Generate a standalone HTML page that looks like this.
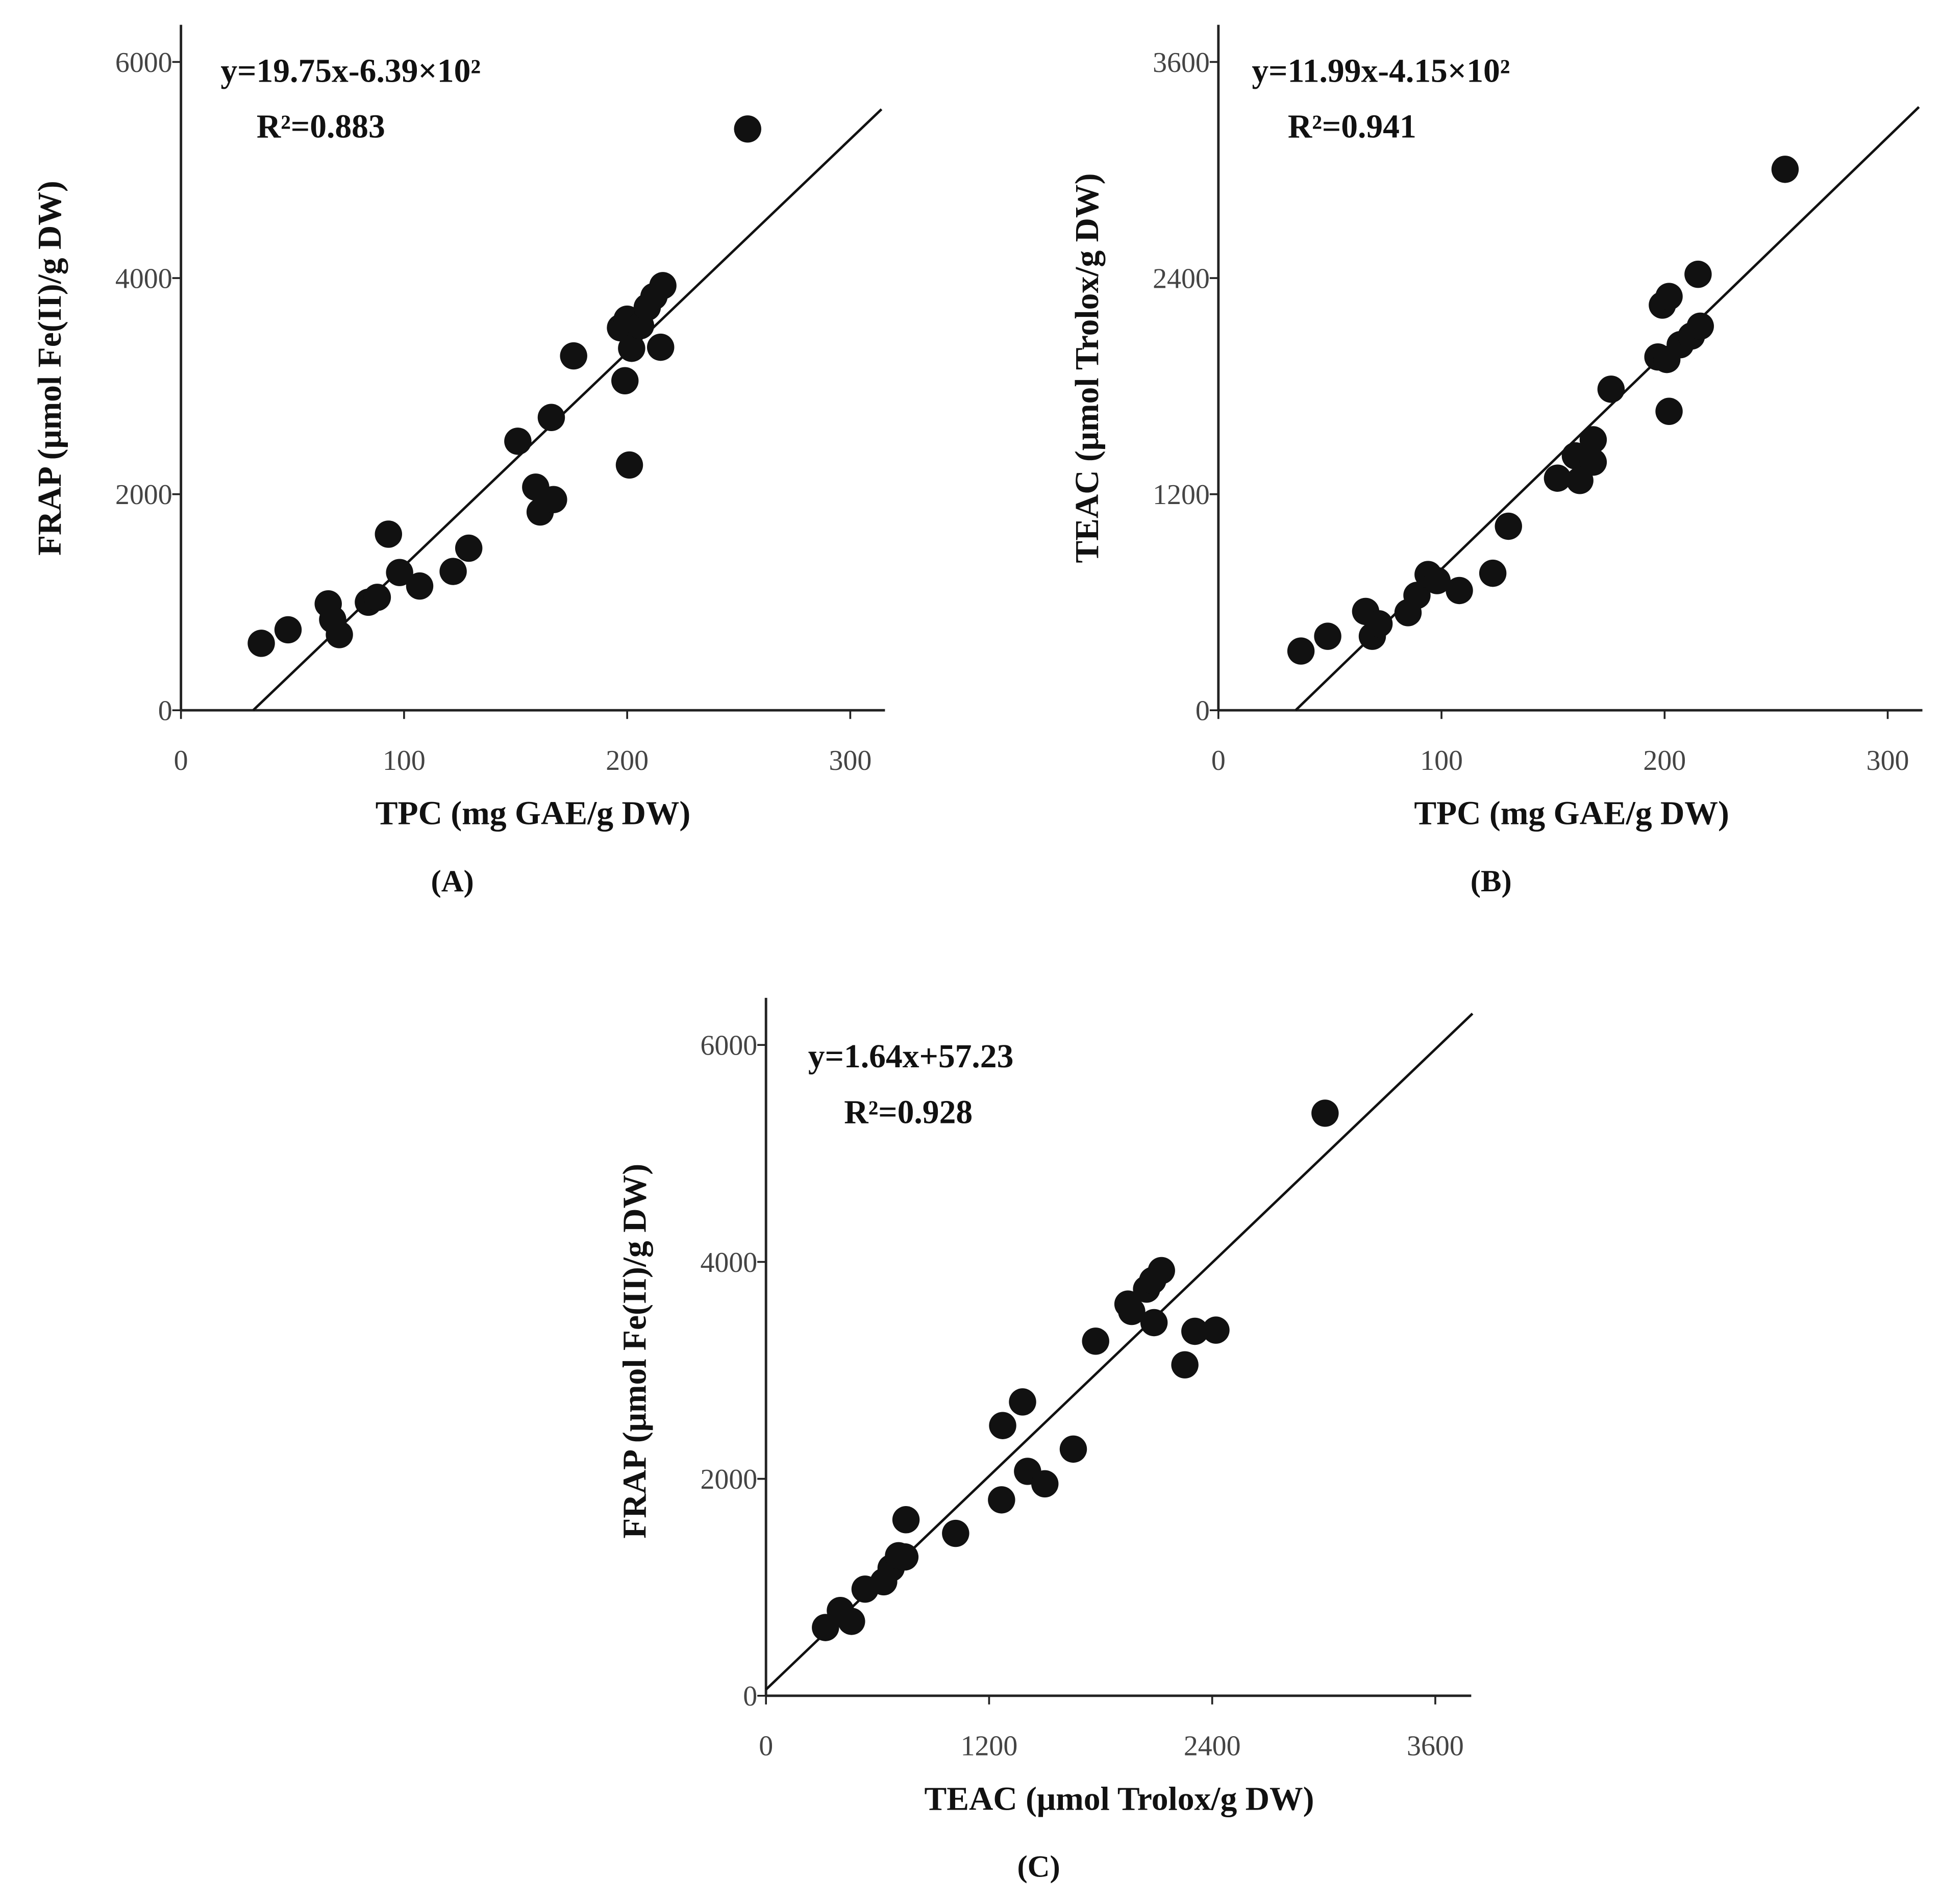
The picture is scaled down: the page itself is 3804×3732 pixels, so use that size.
<!DOCTYPE html>
<html><head><meta charset="utf-8"><style>
html,body{margin:0;padding:0;background:#fff;}
svg{display:block;}
text{font-family:"Liberation Serif",serif;}
.tick{fill:#444;font-size:23px;}
.title{font-size:27px;font-weight:bold;fill:#111;}
.eq{font-size:27px;font-weight:bold;fill:#111;}
.lab{font-size:25px;font-weight:bold;fill:#111;}
</style></head><body>
<svg id="fig" width="3804" height="3732" viewBox="0 0 1566 1536" preserveAspectRatio="none" xmlns="http://www.w3.org/2000/svg"></svg>
<script>
// Panel A: TPC vs FRAP
const aTPC=[36,48,66,68,71,84,88,93,98,107,122,129,151,159,161,167,166,176,197,200,199,201,202,206,209,212,216,215,254];
const aFRAP=[620,745,985,840,700,1000,1045,1630,1275,1150,1285,1500,2490,2065,1835,1950,2710,3280,3540,3620,3050,2270,3350,3560,3730,3830,3930,3360,5380];
// Panel B: TPC vs TEAC
const bTPC=[37,49,66,69,72,85,89,94,98,108,123,130,152,160,162,168,168,176,197,201,199,202,202,207,212,216,215,254];
const bTEAC=[329,411,549,411,480,542,638,754,720,665,761,1022,1289,1413,1276,1502,1378,1783,1962,1948,2250,2298,1660,2030,2078,2133,2421,3004];
// Panel C: TEAC vs FRAP
const cTEAC=[320,400,460,533,633,673,713,753,747,1020,1267,1273,1380,1407,1500,1653,1773,1947,1967,2047,2080,2127,2087,2253,2307,2420,3007];
const cFRAP=[629,786,686,983,1051,1177,1291,1623,1280,1497,1806,2491,2709,2069,1954,2274,3269,3611,3543,3749,3829,3920,3440,3051,3360,3371,5371];
const xTicksTPC=[0,100,200,300];
const yTicksFRAP=[0,2000,4000,6000];
const yTicksTEAC=[0,1200,2400,3600];
const xTicksTEAC=[0,1200,2400,3600];
const fitA=[19.75,-639];
const fitB=[11.99,-415];
const fitC=[1.64,57.23];

const NS="http://www.w3.org/2000/svg";
const svg=document.getElementById('fig');
function mk(tag,attrs,parent){const e=document.createElementNS(NS,tag);for(const k in attrs)e.setAttribute(k,attrs[k]);(parent||svg).appendChild(e);return e;}

function panel(id,cfg){
  const g=mk('g',{});
  
  
  const sx=v=>cfg.x0+(v-cfg.xmin)/(cfg.xmax-cfg.xmin)*cfg.xw;
  const sy=v=>cfg.y0-(v-cfg.ymin)/(cfg.ymax-cfg.ymin)*cfg.yh;
  const ya=mk('line',{x1:cfg.x0,y1:cfg.y0,x2:cfg.x0,y2:cfg.ytop,stroke:'#222','stroke-width':2},g);
  
  
  const xa=mk('line',{x1:cfg.x0,y1:cfg.y0,x2:cfg.xright,y2:cfg.y0,stroke:'#222','stroke-width':2},g);
  
  
  cfg.xt.forEach(v=>{
    mk('line',{x1:sx(v),y1:cfg.y0,x2:sx(v),y2:cfg.y0+7,stroke:'#222','stroke-width':1.5},g);
    const t=mk('text',{x:sx(v),y:cfg.y0+48,'text-anchor':'middle','class':'tick'},g);
    t.textContent=v;
    
    
  });
  cfg.yt.forEach(v=>{
    mk('line',{x1:cfg.x0-7,y1:sy(v),x2:cfg.x0,y2:sy(v),stroke:'#222','stroke-width':1.5},g);
    const t=mk('text',{x:cfg.x0-7,y:sy(v)+8,'text-anchor':'end','class':'tick'},g);
    t.textContent=v;
    
    
  });
  const fx0=Math.max(cfg.xmin,(cfg.ymin-cfg.fit[1])/cfg.fit[0]);
  const fx1=cfg.fitEnd;
  const fl=mk('line',{x1:sx(fx0),y1:sy(cfg.fit[0]*fx0+cfg.fit[1]),x2:sx(fx1),y2:sy(cfg.fit[0]*fx1+cfg.fit[1]),stroke:'#111','stroke-width':2},g);
  
  
  cfg.xs.forEach((v,i)=>{
    const c=mk('circle',{cx:sx(v),cy:sy(cfg.ys[i]),r:11,fill:'#111'},g);
    
    
  });
  const e1=mk('text',{x:cfg.eqx,y:cfg.eqy,'class':'eq'},g);
  e1.textContent=cfg.eq;
  
  
  const e2=mk('text',{x:cfg.eqx+29,y:cfg.eqy+45,'class':'eq'},g);
  e2.textContent=cfg.r2;
  
  
  const xt=mk('text',{x:cfg.xtx,y:cfg.y0+92,'text-anchor':'middle','class':'title'},g);
  xt.textContent=cfg.xtitle;
  
  
  const ytt=mk('text',{x:0,y:0,'text-anchor':'middle','class':'title',transform:`translate(${cfg.x0-97},${cfg.yty}) rotate(-90)`},g);
  ytt.textContent=cfg.ytitle;
  
  
  const lb=mk('text',{x:cfg.lbx,y:cfg.y0+146,'text-anchor':'middle','class':'lab'},g);
  lb.textContent=cfg.label;
  
  
}
panel('a',{x0:146,y0:573,xw:540,yh:523,xmin:0,xmax:300,ymin:0,ymax:6000,ytop:20,xright:714,xt:xTicksTPC,yt:yTicksFRAP,xs:aTPC,ys:aFRAP,fit:fitA,fitEnd:314,eq:'y=19.75x-6.39×10²',r2:'R²=0.883',eqx:178,eqy:66,xtx:430,xtitle:'TPC (mg GAE/g DW)',ytitle:'FRAP (μmol Fe(II)/g DW)',yty:297,label:'(A)',lbx:365});
panel('b',{x0:983,y0:573,xw:540,yh:523,xmin:0,xmax:300,ymin:0,ymax:3600,ytop:20,xright:1551,xt:xTicksTPC,yt:yTicksTEAC,xs:bTPC,ys:bTEAC,fit:fitB,fitEnd:314,eq:'y=11.99x-4.15×10²',r2:'R²=0.941',eqx:1010,eqy:66,xtx:1268,xtitle:'TPC (mg GAE/g DW)',ytitle:'TEAC (μmol Trolox/g DW)',yty:297,label:'(B)',lbx:1203});
panel('c',{x0:618,y0:1368,xw:540,yh:525,xmin:0,xmax:3600,ymin:0,ymax:6000,ytop:805,xright:1187,xt:xTicksTEAC,yt:yTicksFRAP,xs:cTEAC,ys:cFRAP,fit:fitC,fitEnd:3800,eq:'y=1.64x+57.23',r2:'R²=0.928',eqx:652,eqy:861,xtx:903,xtitle:'TEAC (μmol Trolox/g DW)',ytitle:'FRAP (μmol Fe(II)/g DW)',yty:1090,label:'(C)',lbx:838});
</script>
</body></html>
